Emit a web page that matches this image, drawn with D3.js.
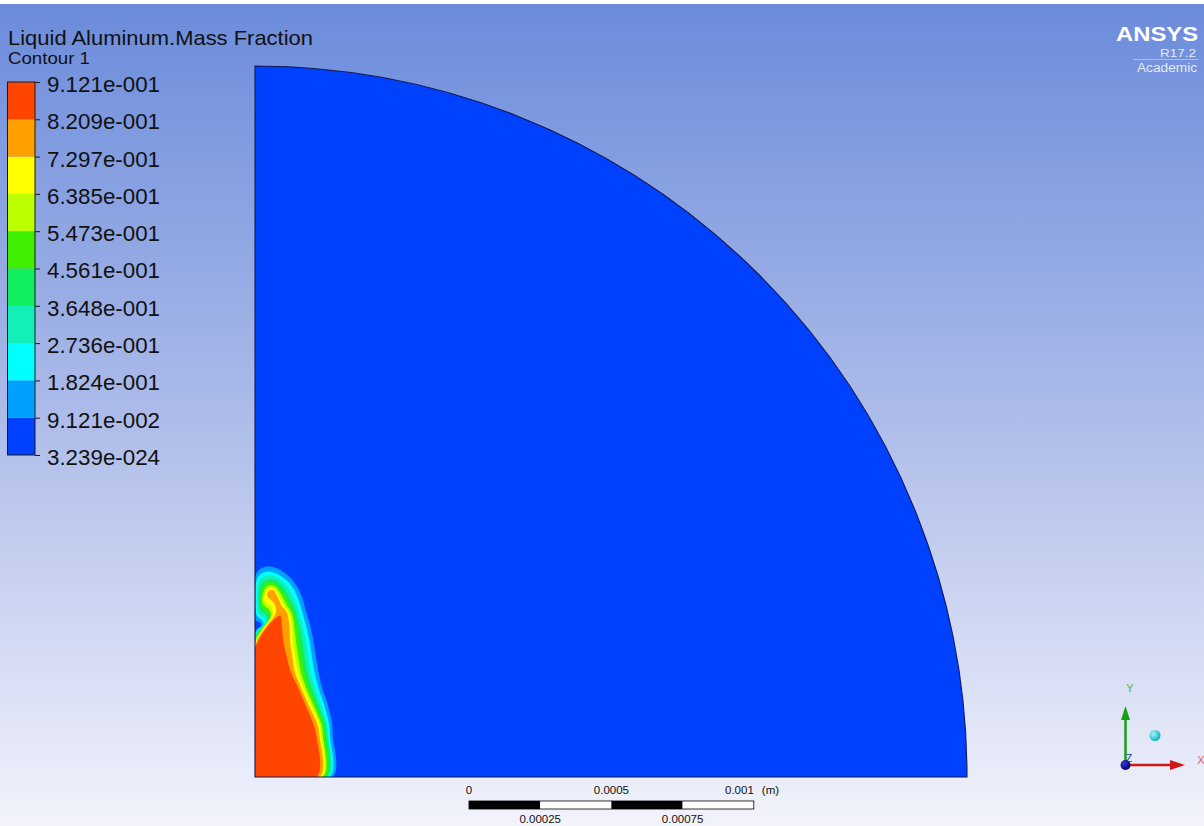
<!DOCTYPE html>
<html>
<head>
<meta charset="utf-8">
<script src="https://cdn.jsdelivr.net/npm/d3@7"></script>
<style>
  html, body { margin: 0; padding: 0; overflow: hidden; background: #fff; }
  svg { display: block; }
  text { font-family: "Liberation Sans", Arial, sans-serif; }
</style>
</head>
<body>
<svg id="chart" width="1204" height="826"></svg>
<script>
// ---- Field: Liquid Aluminum mass fraction, contour levels and colours ----
const fieldTitle = "Liquid Aluminum.Mass Fraction";
const plotName = "Contour 1";
const levelValues = [3.239e-24, 9.121e-2, 1.824e-1, 2.736e-1, 3.648e-1, 4.561e-1,
                     5.473e-1, 6.385e-1, 7.297e-1, 8.209e-1, 9.121e-1];
const levelLabels = ["3.239e-024", "9.121e-002", "1.824e-001", "2.736e-001", "3.648e-001",
                     "4.561e-001", "5.473e-001", "6.385e-001", "7.297e-001", "8.209e-001", "9.121e-001"];
const bandColors = ["#0041ff", "#00a0ff", "#00ffff", "#12f0b8", "#10ee5e",
                    "#3ff000", "#bcff00", "#ffff00", "#ffa000", "#ff4500"];

// ---- Geometry (micrometres): quarter-disc domain of radius 2.5 mm ----
const domainRadius = 2500;

// Iso-lines of the mass fraction, one closed outline per level (x, y in µm);
// each outline encloses the region at or above its level.
const contour1 = [[0,0],[273,0],[273,147],[271,186],[265,217],[253,263],[235,315],[223,368],[214,420],[206,473],[196,525],[180,578],
  [166,630],[148,669],[125,700],[99,722],[72,736],[43,740],[21,733],[7,719],[0,705],
  [0,550],[14,546],[21,532],[0,511]];
const contour2 = [[0,0],[263,0],[263,147],[260,186],[253,217],[240,263],[222,315],[209,368],[200,420],[192,473],[181,525],[166,578],
  [153,623],[135,662],[112,691],[90,708],[64,719],[39,722],[18,712],[5,690],
  [5,571],[11,562],[21,555],[30,539],[0,502]];
const contour3 = [[0,0],[257,0],[257,147],[252,186],[244,217],[229,263],[210,315],[196,368],[187,420],[179,473],[169,525],[155,578],
  [140,620],[123,656],[104,680],[83,698],[60,708],[39,708],[21,698],[11,679],
  [11,581],[16,572],[28,564],[37,546],[0,494]];
const contour4 = [[0,0],[252,0],[252,147],[247,186],[236,217],[219,263],[199,315],[184,368],[175,420],[167,473],[158,525],[144,578],
  [130,614],[113,645],[96,670],[77,687],[60,696],[40,694],[26,684],[16,665],
  [16,592],[23,581],[35,572],[44,553],[0,487]];
const contour5 = [[0,0],[245,0],[245,147],[240,186],[229,217],[211,263],[189,315],[173,368],[164,420],[155,473],[148,525],[136,578],
  [120,609],[106,637],[89,662],[74,677],[60,684],[44,683],[32,672],[23,655],
  [21,602],[30,590],[42,581],[51,560],[0,480]];
const contour6 = [[0,0],[238,0],[238,147],[233,186],[221,217],[201,263],[179,315],[161,368],[152,420],[144,473],[138,525],[128,578],
  [110,606],[98,630],[86,651],[72,669],[60,674],[46,672],[35,662],[28,644],
  [26,613],[37,599],[49,590],[56,567],[0,473]];
const contour7 = [[0,0],[233,0],[231,147],[226,186],[214,217],[193,263],[170,315],[151,368],[142,420],[133,473],[130,525],[119,578],
  [102,602],[91,623],[81,644],[70,658],[60,665],[49,663],[40,655],[33,637],
  [32,623],[44,609],[56,599],[61,574],[0,466]];
const contour8 = [[0,0],[228,0],[226,147],[219,186],[205,217],[184,263],[161,315],[140,368],[131,420],[123,473],[121,525],[112,578],
  [93,602],[84,623],[75,641],[68,653],[60,658],[51,656],[44,648],[44,634],
  [56,623],[68,609],[74,581],[0,459]];
const contour9 = [[0,0],[217,0],[215,147],[205,186],[193,217],[173,263],[151,315],[126,368],[112,420],[100,473],[95,525],[88,567],[0,452]];
const contourOutlines = [contour1, contour2, contour3, contour4, contour5, contour6, contour7, contour8, contour9];

// ---- Length scale bar (metres) ----
const scaleTopTicks = [0, 0.0005, 0.001];
const scaleTopLabels = ["0", "0.0005", "0.001"];
const scaleBottomTicks = [0.00025, 0.00075];
const scaleBottomLabels = ["0.00025", "0.00075"];
const scaleSegments = [[0, 0.00025], [0.00025, 0.0005], [0.0005, 0.00075], [0.00075, 0.001]];
const scaleUnit = "(m)";

// ---------------------------------------------------------------------------
const svg = d3.select("#chart");
const W = 1204, H = 826;
const defs = svg.append("defs");

// viewport background: blue at the top fading to white
const bg = defs.append("linearGradient").attr("id", "bg").attr("x1", 0).attr("y1", 0).attr("x2", 0).attr("y2", 1);
bg.append("stop").attr("offset", "0%").attr("stop-color", "#6a8bdb");
bg.append("stop").attr("offset", "50%").attr("stop-color", "#acbbe9");
bg.append("stop").attr("offset", "100%").attr("stop-color", "#f2f3fb");
svg.append("rect").attr("width", W).attr("height", H).attr("fill", "url(#bg)");
svg.append("rect").attr("width", W).attr("height", 4).attr("fill", "#ffffff");

// spatial scales: micrometres -> screen
const x = d3.scaleLinear().domain([0, domainRadius]).range([255, 967]);
const y = d3.scaleLinear().domain([0, domainRadius]).range([777, 66]);

const sectorPath = `M${x(0)},${y(0)} L${x(0)},${y(domainRadius)} ` +
  `A${x(domainRadius) - x(0)},${y(0) - y(domainRadius)} 0 0 1 ${x(domainRadius)},${y(0)} Z`;

defs.append("clipPath").attr("id", "domainClip").append("path").attr("d", sectorPath);

// domain filled with the lowest band
svg.append("path").attr("d", sectorPath).attr("fill", bandColors[0]);

// filled contour bands, painted from the lowest level upward
const outline = d3.line()
  .x(d => x(d[0]))
  .y(d => y(d[1]))
  .curve(d3.curveCatmullRomClosed.alpha(0.5));

svg.append("g").attr("clip-path", "url(#domainClip)")
  .selectAll("path")
  .data(contourOutlines)
  .join("path")
  .attr("d", d => outline(d))
  .attr("fill", (d, i) => bandColors[i + 1]);

// domain edge
svg.append("path").attr("d", sectorPath)
  .attr("fill", "none").attr("stroke", "#141850").attr("stroke-width", 1.1);

// ---- Legend ----
svg.append("text").attr("x", 8).attr("y", 44.5)
  .attr("font-size", 21).attr("fill", "#111")
  .attr("textLength", 305).attr("lengthAdjust", "spacingAndGlyphs")
  .text(fieldTitle);
svg.append("text").attr("x", 8).attr("y", 64)
  .attr("font-size", 16).attr("fill", "#111")
  .attr("textLength", 82).attr("lengthAdjust", "spacingAndGlyphs")
  .text(plotName);

const legY = d3.scaleLinear().domain([0, levelValues[levelValues.length - 1]]).range([455, 82]);
const barX = 7.5, barW = 27.5;
const legend = svg.append("g");
legend.selectAll("rect.band")
  .data(bandColors)
  .join("rect")
  .attr("class", "band")
  .attr("x", barX)
  .attr("y", (c, i) => legY(levelValues[i + 1]))
  .attr("width", barW)
  .attr("height", (c, i) => legY(levelValues[i]) - legY(levelValues[i + 1]))
  .attr("fill", c => c);
legend.append("rect")
  .attr("x", barX).attr("y", legY(levelValues[10]))
  .attr("width", barW).attr("height", legY(levelValues[0]) - legY(levelValues[10]))
  .attr("fill", "none").attr("stroke", "#1a1a1a").attr("stroke-width", 1);

const legAxis = d3.axisRight(legY)
  .tickValues(levelValues)
  .tickFormat((d, i) => levelLabels[i])
  .tickSize(5)
  .tickPadding(7);
const legAxisG = legend.append("g")
  .attr("transform", `translate(${barX + barW},0)`)
  .call(legAxis);
legAxisG.select(".domain").remove();
legAxisG.selectAll(".tick line").attr("stroke", "#1a1a1a");
legAxisG.selectAll(".tick text")
  .attr("font-family", "'Liberation Sans', Arial, sans-serif")
  .attr("font-size", 22)
  .attr("fill", "#111")
  .attr("dy", "0.43em")
  .attr("textLength", 113)
  .attr("lengthAdjust", "spacingAndGlyphs");

// ---- Product badge ----
const badge = svg.append("g").attr("text-anchor", "end");
badge.append("text").attr("x", 1198).attr("y", 41)
  .attr("font-family", "'DejaVu Sans', sans-serif").attr("font-weight", "bold")
  .attr("font-size", 20).attr("fill", "#ffffff")
  .attr("textLength", 82).attr("lengthAdjust", "spacingAndGlyphs")
  .text("ANSYS");
badge.append("text").attr("x", 1196).attr("y", 56.5)
  .attr("font-family", "'DejaVu Sans', sans-serif")
  .attr("font-size", 11).attr("fill", "#e4ebfa")
  .attr("textLength", 36).attr("lengthAdjust", "spacingAndGlyphs")
  .text("R17.2");
svg.append("line").attr("x1", 1133).attr("x2", 1199).attr("y1", 59.5).attr("y2", 59.5)
  .attr("stroke", "#c9d5f2").attr("stroke-width", 0.8).attr("opacity", 0.8);
badge.append("text").attr("x", 1197).attr("y", 72)
  .attr("font-family", "'DejaVu Sans', sans-serif")
  .attr("font-size", 12).attr("fill", "#e4ebfa")
  .attr("textLength", 60).attr("lengthAdjust", "spacingAndGlyphs")
  .text("Academic");

// ---- Length scale bar ----
const barScale = d3.scaleLinear().domain([0, 0.001]).range([469, 469 + (x(1000) - x(0))]);
const sb = svg.append("g");
sb.selectAll("rect")
  .data(scaleSegments)
  .join("rect")
  .attr("x", d => barScale(d[0]))
  .attr("y", 801)
  .attr("width", d => barScale(d[1]) - barScale(d[0]))
  .attr("height", 8)
  .attr("fill", (d, i) => i % 2 === 0 ? "#000" : "#fff");
sb.append("rect").attr("x", barScale(0)).attr("y", 801)
  .attr("width", barScale(0.001) - barScale(0)).attr("height", 8)
  .attr("fill", "none").attr("stroke", "#000").attr("stroke-width", 0.8);
sb.selectAll("text.top")
  .data(scaleTopTicks)
  .join("text")
  .attr("class", "top")
  .attr("x", d => barScale(d))
  .attr("y", 794)
  .attr("text-anchor", (d, i) => i === scaleTopTicks.length - 1 ? "end" : "middle")
  .attr("font-size", 11.5).attr("fill", "#111")
  .text((d, i) => scaleTopLabels[i]);
sb.append("text").attr("x", barScale(0.001) + 8).attr("y", 794)
  .attr("font-size", 11.5).attr("fill", "#111").text(scaleUnit);
sb.selectAll("text.bottom")
  .data(scaleBottomTicks)
  .join("text")
  .attr("class", "bottom")
  .attr("x", d => barScale(d))
  .attr("y", 823)
  .attr("text-anchor", "middle")
  .attr("font-size", 11.5).attr("fill", "#111")
  .text((d, i) => scaleBottomLabels[i]);

// ---- Axis triad ----
const tri = svg.append("g");
const ox = 1125.5, oy = 765;
tri.append("line").attr("x1", ox).attr("y1", oy).attr("x2", ox).attr("y2", 718)
  .attr("stroke", "#16a016").attr("stroke-width", 2.5);
tri.append("path").attr("d", `M${ox},706 L${ox - 4.5},720 L${ox + 4.5},720 Z`).attr("fill", "#16a016");
tri.append("line").attr("x1", ox).attr("y1", oy).attr("x2", 1172).attr("y2", oy)
  .attr("stroke", "#d01818").attr("stroke-width", 2.5);
tri.append("path").attr("d", `M1185,${oy} L1170,${oy - 5} L1170,${oy + 5} Z`).attr("fill", "#d01818");
tri.append("text").attr("x", 1130).attr("y", 692).attr("text-anchor", "middle")
  .attr("font-size", 11).attr("fill", "#58b058").text("Y");
tri.append("text").attr("x", 1201).attr("y", 764).attr("text-anchor", "middle")
  .attr("font-size", 11).attr("fill", "#e06060").text("X");
const blueBall = defs.append("radialGradient").attr("id", "blueBall").attr("cx", "35%").attr("cy", "35%").attr("r", "65%");
blueBall.append("stop").attr("offset", "0%").attr("stop-color", "#3a3ad0");
blueBall.append("stop").attr("offset", "100%").attr("stop-color", "#000070");
const cyanBall = defs.append("radialGradient").attr("id", "cyanBall").attr("cx", "35%").attr("cy", "35%").attr("r", "65%");
cyanBall.append("stop").attr("offset", "0%").attr("stop-color", "#a8f4f8");
cyanBall.append("stop").attr("offset", "100%").attr("stop-color", "#10b4c4");
tri.append("circle").attr("cx", ox).attr("cy", oy).attr("r", 5).attr("fill", "url(#blueBall)");
tri.append("text").attr("x", 1129).attr("y", 762).attr("text-anchor", "middle")
  .attr("font-size", 10).attr("fill", "#2030a0").text("Z");
tri.append("circle").attr("cx", 1155).attr("cy", 735.5).attr("r", 5.5).attr("fill", "url(#cyanBall)");
</script>
</body>
</html>
